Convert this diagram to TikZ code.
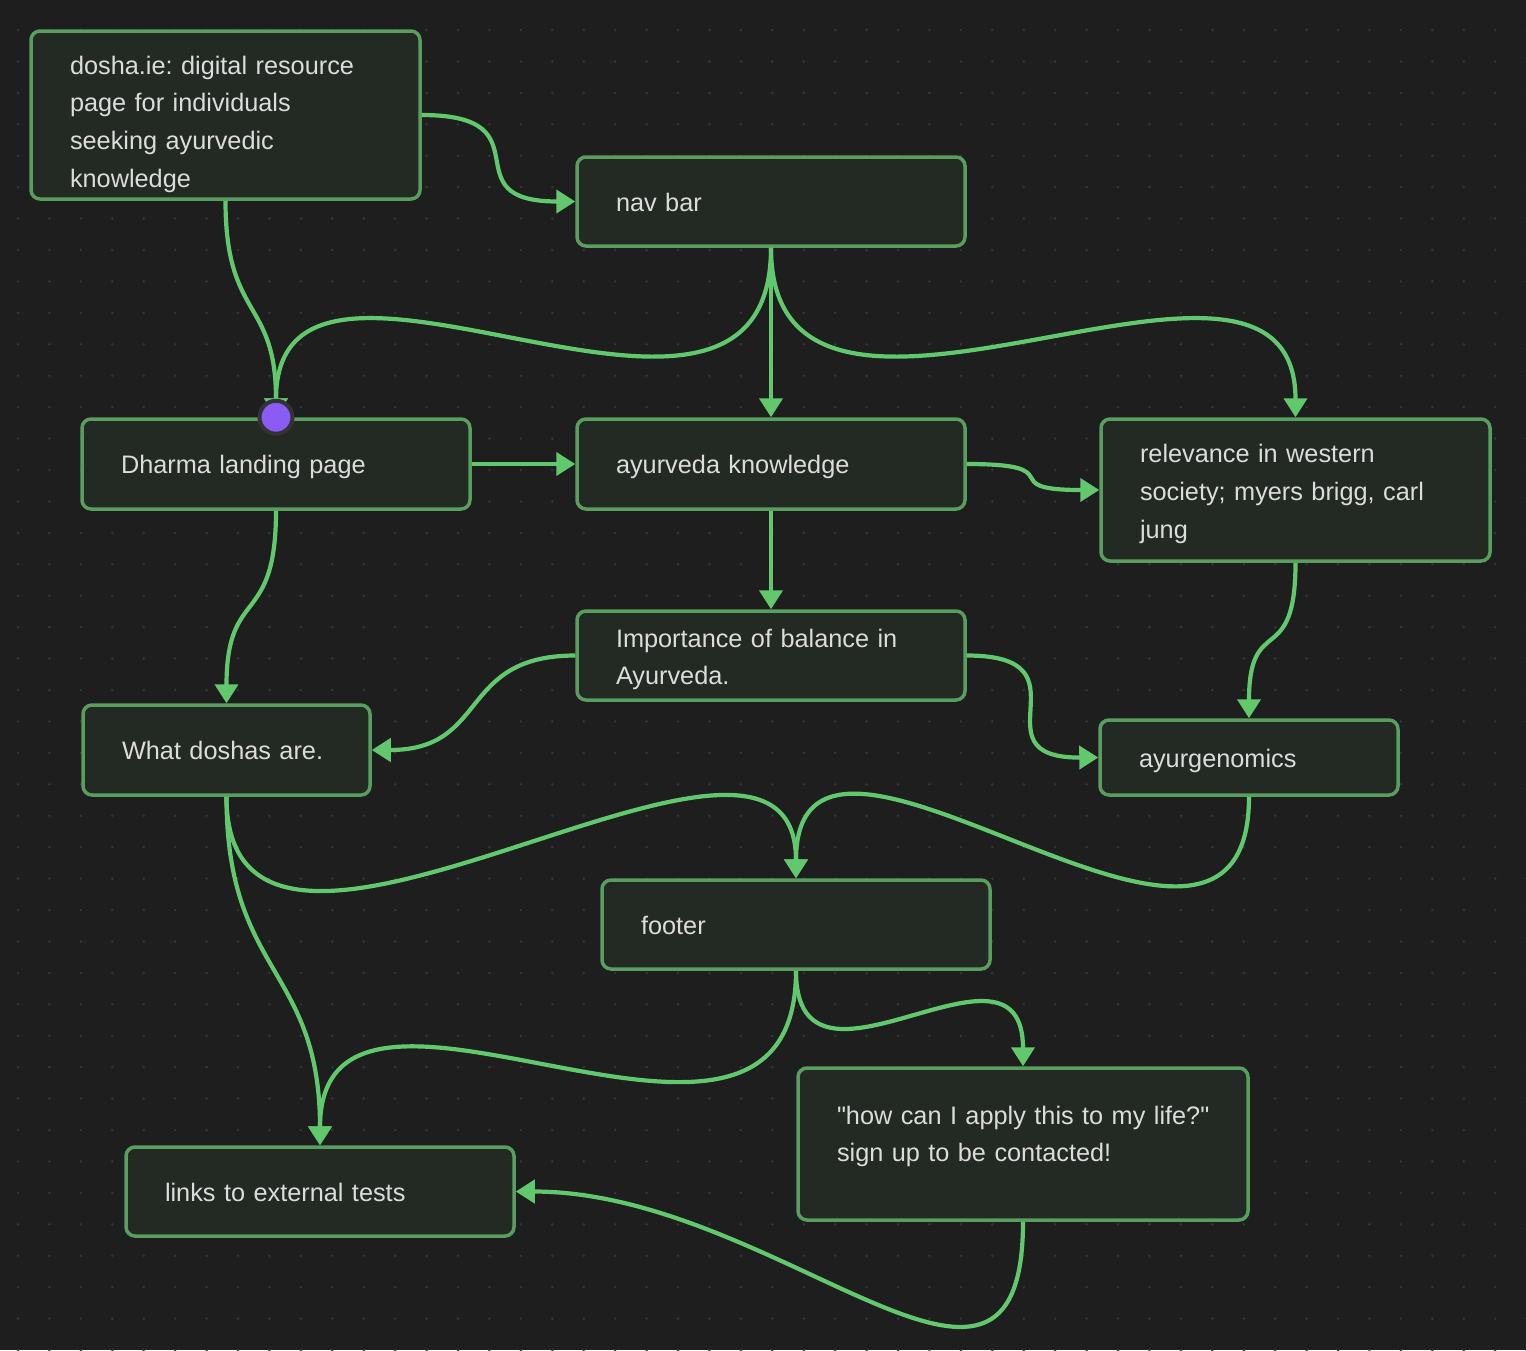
\documentclass[tikz,border=0pt]{standalone}
\usepackage{fontspec}
\setmainfont{Liberation Sans}[Ligatures=TeXOff]
\usetikzlibrary{arrows.meta}
\definecolor{bg}{HTML}{1E1E1E}
\definecolor{gridc}{HTML}{363636}
\definecolor{boxfill}{HTML}{232923}
\definecolor{boxline}{HTML}{5A9E5F}
\definecolor{edgec}{HTML}{62C86E}
\definecolor{txt}{HTML}{DCDCDC}
\definecolor{pinc}{HTML}{8A5CF5}
\definecolor{pinring}{HTML}{333333}
% strut on a card's first line that lowers its text by #1 pt
\newcommand\drop[1]{\rule{0pt}{\dimexpr 18.5pt+#1pt+#1pt\relax}}
\begin{document}
\frenchspacing
\begin{tikzpicture}[x=1pt,y=-1pt,
  card/.style={draw=boxline, fill=boxfill, line width=3.5pt, rounded corners=9pt,
    inner xsep=39pt, inner ysep=0pt, text=txt, align=left,
    font=\fontsize{25.3}{37.7}\selectfont},
  link/.style={draw=edgec, line width=4.2pt, -{Triangle[length=19pt,width=23pt]}},
  pinmark/.style={circle, fill=pinc, draw=pinring, line width=4pt, minimum size=33pt, inner sep=0pt}]

% canvas and dot grid
\useasboundingbox (0,0) rectangle (1526,1350);
\fill[bg] (0,0) rectangle (1526,1350);
\foreach \i in {0,...,48}{\foreach \j in {0,...,42}{\fill[gridc] ({18+31.43*\i},{30+31.43*\j}) circle (1.4pt);}}

% cards
\node[card, text width=311pt, minimum height=168pt] (dosha) at (225.5,115) {\drop{9}dosha.ie: digital resource\\page for individuals\\seeking ayurvedic\\knowledge};
\node[card, text width=310pt, minimum height=89pt] (nav) at (771,201.5) {\drop{1}nav bar};
\node[card, text width=310pt, minimum height=90pt] (dharma) at (276,464) {\drop{3}Dharma landing page};
\node[card, text width=310pt, minimum height=90pt] (ayur) at (771,464) {\drop{3}ayurveda knowledge};
\node[card, text width=311pt, minimum height=142pt] (west) at (1295.5,490) {\drop{4}relevance in western\\society; myers brigg, carl\\jung};
\node[card, text width=310pt, minimum height=89pt] (balance) at (771,655.5) {\drop{4}Importance of balance in\\Ayurveda.};
\node[card, text width=209pt, minimum height=90pt] (doshas) at (226.5,750) {What doshas are.};
\node[card, text width=220pt, minimum height=75pt] (genom) at (1249,757.5) {\drop{3}ayurgenomics};
\node[card, text width=310pt, minimum height=89pt] (footer) at (796,924.5) {\drop{1}footer};
\node[card, text width=372pt, minimum height=152pt] (apply) at (1023,1144) {\mbox{\drop{1}"how can I apply this to my life?"}\\sign up to be contacted!\\[-15pt]\mbox{}};
\node[card, text width=310pt, minimum height=89pt] (links) at (320,1191.5) {\drop{1}links to external tests};

% connectors
\draw[link] (dosha.east) .. controls (550,115) and (447,201.5) .. (nav.west);
\draw[link] (dosha.south) .. controls (225.5,320) and (276,298) .. (dharma.north);
\draw[link] (nav.south) .. controls (771,516) and (276,175) .. (dharma.north);
\draw[link] (nav.south) -- (ayur.north);
\draw[link] (nav.south) .. controls (771,516) and (1295.5,175) .. (west.north);
\draw[link] (dharma.east) -- (ayur.west);
\draw[link] (ayur.east) .. controls (1075,464) and (991,490) .. (west.west);
\draw[link] (ayur.south) -- (balance.north);
\draw[link] (west.south) .. controls (1295.5,671) and (1249,611) .. (genom.north);
\draw[link] (dharma.south) .. controls (276,629) and (226.5,585) .. (doshas.north);
\draw[link] (balance.west) .. controls (457,655.5) and (490,750) .. (doshas.east);
\draw[link] (balance.east) .. controls (1095,655.5) and (971,758) .. (genom.west);
\draw[link] (doshas.south) .. controls (226.5,1070) and (796,640) .. (footer.north);
\draw[link] (genom.south) .. controls (1249,1059) and (796,640) .. (footer.north);
\draw[link] (doshas.south) .. controls (226.5,975) and (320,967) .. (links.north);
\draw[link] (footer.south) .. controls (796,1241) and (320,905) .. (links.north);
\draw[link] (footer.south) .. controls (796,1122) and (1023,915) .. (apply.north);
\draw[link] (apply.south) .. controls (1023,1475) and (779,1191.5) .. (links.east);

% marker on the landing page card
\node[pinmark] (pin) at (dharma.north) {};
\end{tikzpicture}
\end{document}
